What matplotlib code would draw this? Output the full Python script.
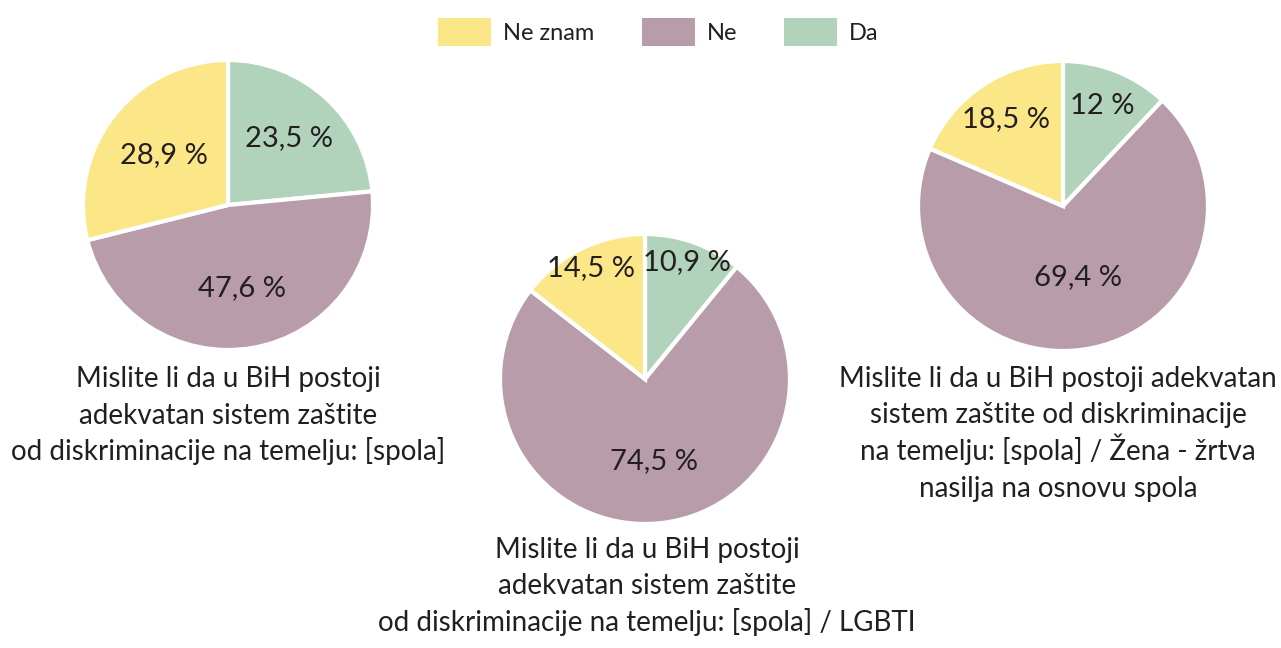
import matplotlib
matplotlib.use("Agg")
import matplotlib.pyplot as plt
import numpy as np
from matplotlib.patches import Patch

plt.rcParams['font.family'] = ['Lato', 'DejaVu Sans']

categories = ["Da", "Ne", "Ne znam"]
legend_order = ["Ne znam", "Ne", "Da"]
colors = {"Da": "#B1D3BC", "Ne": "#B89CAA", "Ne znam": "#FBE688"}

pie1_values = [23.5, 47.6, 28.9]
pie2_values = [10.9, 74.5, 14.5]
pie3_values = [12.0, 69.4, 18.5]

pie1_labels = ["23,5 %", "47,6 %", "28,9 %"]
pie2_labels = ["10,9 %", "74,5 %", "14,5 %"]
pie3_labels = ["12 %", "69,4 %", "18,5 %"]

title1 = ["Mislite li da u BiH postoji", "adekvatan sistem zaštite",
          "od diskriminacije na temelju: [spola]"]
title2 = ["Mislite li da u BiH postoji", "adekvatan sistem zaštite",
          "od diskriminacije na temelju: [spola] / LGBTI"]
title3 = ["Mislite li da u BiH postoji adekvatan", "sistem zaštite od diskriminacije",
          "na temelju: [spola] / Žena - žrtva", "nasilja na osnovu spola"]

W, H = 1281, 648
fig = plt.figure(figsize=(W / 100, H / 100), dpi=100)
ax = fig.add_axes([0, 0, 1, 1])
ax.set_xlim(0, W)
ax.set_ylim(0, H)
ax.set_aspect('equal')
ax.axis('off')

R = 145
LINE = 36.5
text_color = "#231F20"

pies = [
    dict(values=pie1_values, labels=pie1_labels, center=(228, H - 205),
         dists=[0.62, 0.58, 0.56], title=title1, tpos=(228, H - 387)),
    dict(values=pie2_values, labels=pie2_labels, center=(645, H - 379),
         dists=[0.86, 0.57, 0.85], title=title2, tpos=(647, H - 558)),
    dict(values=pie3_values, labels=pie3_labels, center=(1063, H - 206),
         dists=[0.74, 0.50, 0.72], title=title3, tpos=(1058, H - 387)),
]

for p in pies:
    wedges, _ = ax.pie(p["values"], colors=[colors[c] for c in categories],
                       startangle=90, counterclock=False, radius=R,
                       center=p["center"], frame=True,
                       wedgeprops=dict(edgecolor="white", linewidth=3))
    cx, cy = p["center"]
    for w, lab, d in zip(wedges, p["labels"], p["dists"]):
        ang = np.deg2rad((w.theta1 + w.theta2) / 2)
        ax.text(cx + d * R * np.cos(ang), cy + d * R * np.sin(ang), lab,
                ha="center", va="center", fontsize=21, color=text_color)
    tx, ty = p["tpos"]
    for i, line in enumerate(p["title"]):
        ax.text(tx, ty - i * LINE, line, ha="center", va="baseline",
                fontsize=20, color=text_color)

ax.set_xlim(0, W)
ax.set_ylim(0, H)
ax.axis('off')

handles = [Patch(facecolor=colors[c], edgecolor="none", label=c) for c in legend_order]
fig.legend(handles=handles, loc="center", bbox_to_anchor=(0.514, 1 - 32 / H),
           ncol=3, frameon=False, handlelength=2.25,
           handleheight=1.45, handletextpad=0.5, columnspacing=2.0,
           labelcolor=text_color, prop=dict(size=17))

fig.savefig("out.png", dpi=100)
